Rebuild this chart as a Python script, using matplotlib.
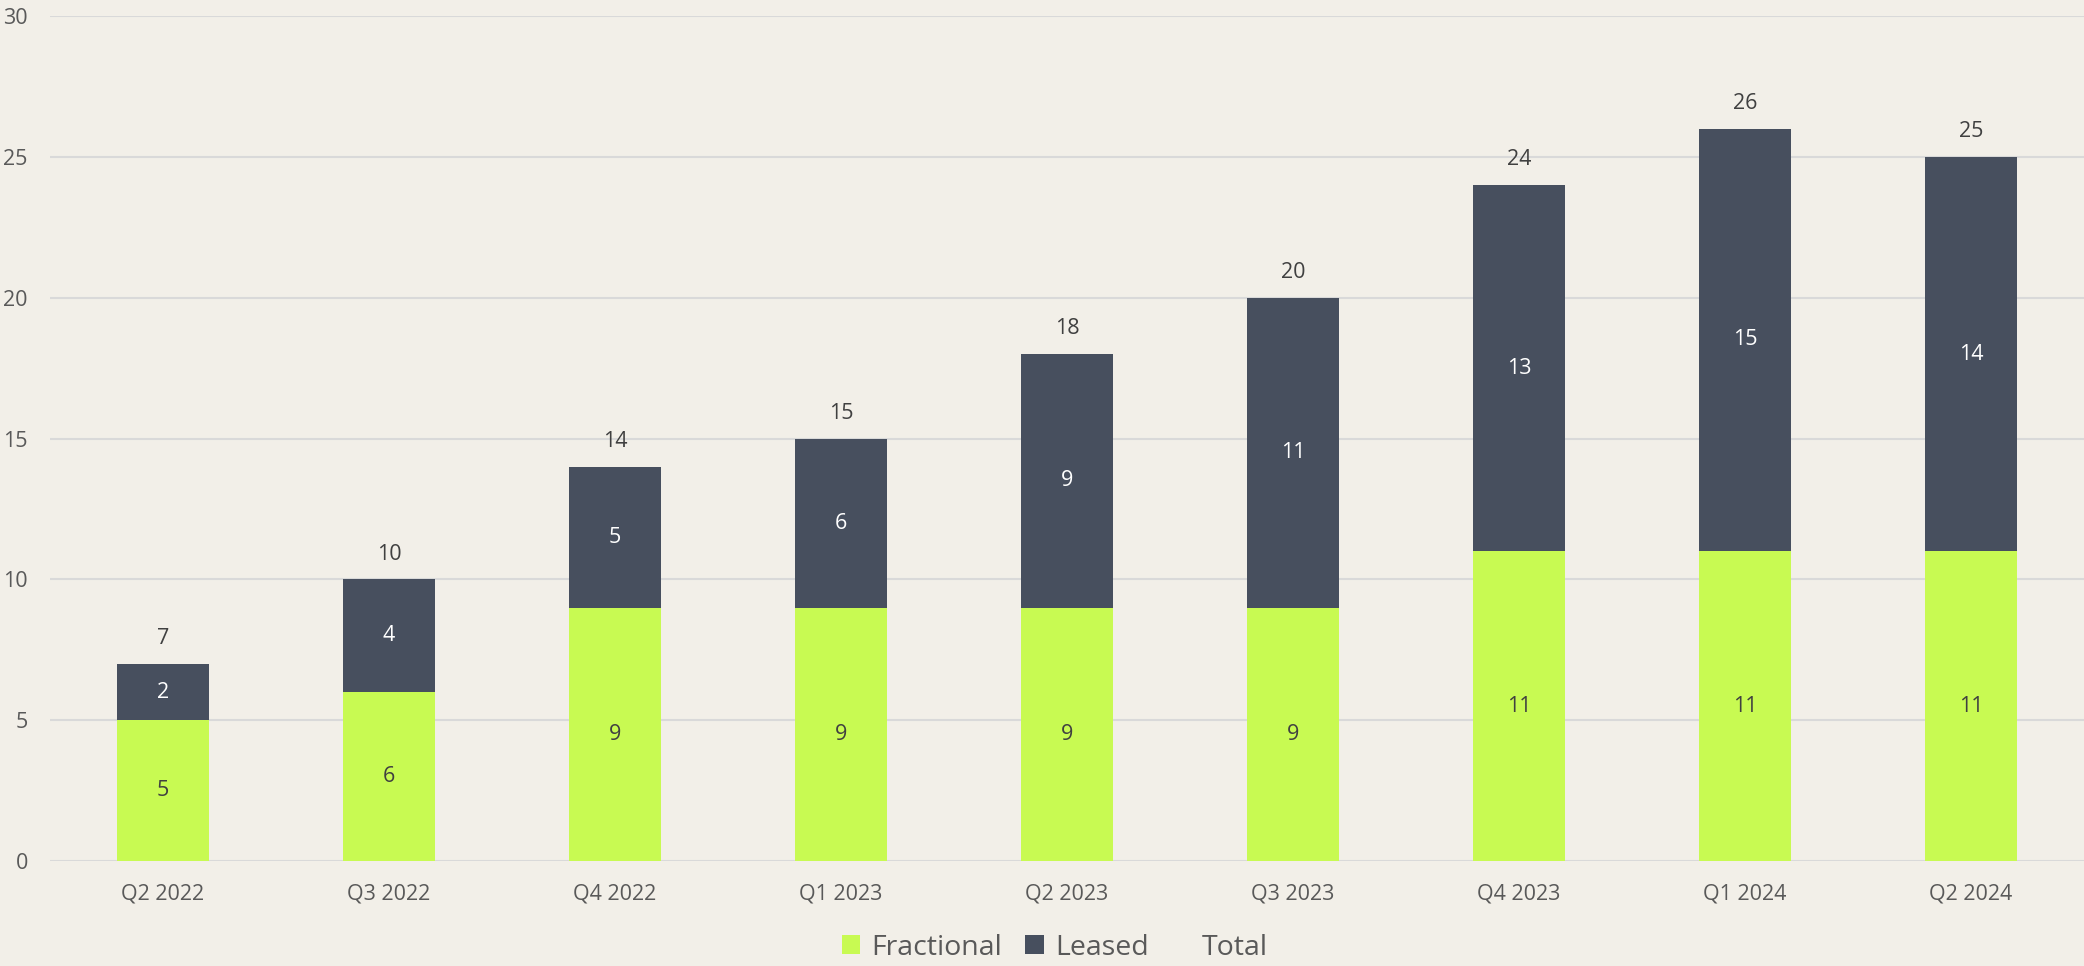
import matplotlib
matplotlib.use("Agg")
import matplotlib.pyplot as plt
from matplotlib.patches import Patch
import numpy as np

quarters = ["Q2 2022", "Q3 2022", "Q4 2022", "Q1 2023", "Q2 2023",
            "Q3 2023", "Q4 2023", "Q1 2024", "Q2 2024"]
fractional = [5, 6, 9, 9, 9, 9, 11, 11, 11]
leased = [2, 4, 5, 6, 9, 11, 13, 15, 14]
totals = [7, 10, 14, 15, 18, 20, 24, 26, 25]

bg = "#F2EFE8"
green = "#C8FA52"
dark = "#474F5E"
grid_c = "#D9D9D9"
tick_c = "#595959"
lab_c = "#404040"

plt.rcParams["font.family"] = ["Open Sans", "DejaVu Sans"]

fig = plt.figure(figsize=(20.84, 9.66), dpi=100, facecolor=bg)
ax = fig.add_axes([0.024, 0.1087, 0.976, 0.8747])
ax.set_facecolor(bg)

x = np.arange(len(quarters))
w = 0.407
ax.bar(x, fractional, w, color=green, label="Fractional", zorder=3)
ax.bar(x, leased, w, bottom=fractional, color=dark, label="Leased", zorder=3)

fs = 15.5
for xi, f, l, t in zip(x, fractional, leased, totals):
    ax.text(xi, f / 2, str(f), ha="center", va="center", color=lab_c, fontsize=fs, zorder=4)
    ax.text(xi, f + l / 2, str(l), ha="center", va="center", color="white", fontsize=fs, zorder=4)
    ax.annotate(str(t), (xi, t), xytext=(0, 10.5), textcoords="offset points",
                ha="center", va="bottom", color=lab_c, fontsize=fs, zorder=4)

ax.set_xlim(-0.5, len(quarters) - 0.5)
ax.set_ylim(0, 30)
ax.set_yticks(range(0, 31, 5))
ax.set_xticks(x)
ax.set_xticklabels(quarters)
ax.yaxis.grid(True, color=grid_c, linewidth=1.5, zorder=0)
ax.set_axisbelow(True)
for s in ax.spines.values():
    s.set_visible(False)
ax.tick_params(axis="both", length=0, colors=tick_c, labelsize=fs)
ax.tick_params(axis="y", pad=16)
ax.tick_params(axis="x", pad=16)

handles = [Patch(facecolor=green, label="Fractional"),
           Patch(facecolor=dark, label="Leased"),
           Patch(facecolor="none", edgecolor="none", label="Total")]
fig.legend(handles=handles, loc="lower center", ncol=3, frameon=False,
           bbox_to_anchor=(0.506, -0.022), fontsize=20.5, labelcolor=tick_c,
           handlelength=0.65, handleheight=0.65, handletextpad=0.4, columnspacing=0.8)

fig.savefig("out.png", dpi=100, facecolor=bg)
